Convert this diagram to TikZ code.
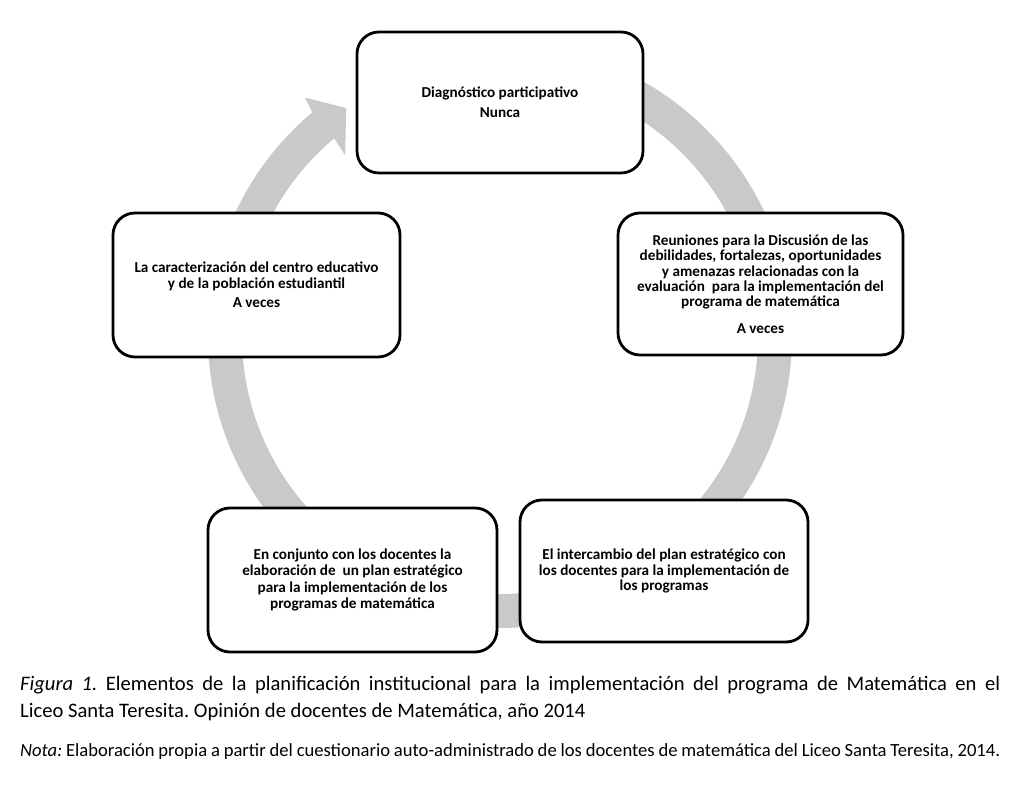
\documentclass[tikz,border=0pt]{standalone}
\usepackage{fontspec}
\setmainfont{Carlito}
\definecolor{ringgray}{HTML}{C9C9C9}
\frenchspacing
\begin{document}
\begin{tikzpicture}[x=1pt,y=1pt]
\tikzset{
  stagebox/.style={draw=black, line width=2.8pt, rounded corners=22pt, fill=white,
    align=center, inner sep=0pt, font=\bfseries\fontsize{15.2}{15.3}\selectfont},
  captext/.style={anchor=base west, inner sep=0pt, font=\fontsize{20.6}{24}\selectfont},
  notetext/.style={anchor=base west, inner sep=0pt, font=\fontsize{18.6}{20}\selectfont}
}
\useasboundingbox (0,0) rectangle (1025,794);
\coordinate (c) at (500,458);
% circular arrow
\fill[ringgray] ([shift={(90:292)}]c) arc[start angle=90,end angle=-230,radius=292]
  -- ([shift={(-230.7:308)}]c) -- ([shift={(-236:275)}]c) -- ([shift={(-229.4:238)}]c)
  -- ([shift={(-230:258)}]c) arc[start angle=-230,end angle=90,radius=258] -- cycle;
% boxes
\node[stagebox, minimum width=286pt, minimum height=141pt] (top) at (500,691.5)
  {Diagnóstico participativo\\[5pt]Nunca};
\node[stagebox, minimum width=285pt, minimum height=142pt] (right) at (760.5,510)
  {Reuniones para la Discusión de las\\debilidades, fortalezas, oportunidades\\y amenazas relacionadas con la\\evaluación\ \ para la implementación del\\programa de matemática\\[11pt]A veces};
\node[stagebox, minimum width=287pt, minimum height=144pt] (left) at (256.5,509)
  {La caracterización del centro educativo\\y de la población estudiantil\\[4pt]A veces};
\node[stagebox, minimum width=289pt, minimum height=144pt, font=\bfseries\fontsize{15.2}{16.6}\selectfont] (botleft) at (352.5,214)
  {En conjunto con los docentes la\\elaboración de\ \ un plan estratégico\\para la implementación de los\\programas de matemática};
\node[stagebox, minimum width=288pt, minimum height=142pt] (botright) at (664,223)
  {El intercambio del plan estratégico con\\los docentes para la implementación de\\los programas};
% caption
\node[captext] (cap1) at (20,103) {\makebox[980pt][s]{\textit{Figura 1.} Elementos de la planificación institucional para la implementación del programa de Matemática en el}};
\node[captext] (cap2) at (20,76) {Liceo Santa Teresita. Opinión de docentes de Matemática, año 2014};
\node[notetext] (nota) at (20,37) {\makebox[980pt][s]{\textit{Nota:} Elaboración propia a partir del cuestionario auto-administrado de los docentes de matemática del Liceo Santa Teresita, 2014.}};
\end{tikzpicture}
\end{document}
